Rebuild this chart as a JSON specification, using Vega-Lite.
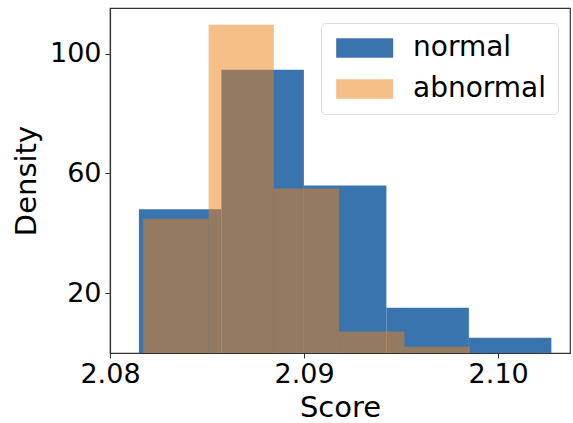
{
  "$schema": "https://vega.github.io/schema/vega-lite/v6.json",
  "width": 460,
  "height": 345,
  "autosize": {"type": "none"},
  "padding": {"left": 110, "top": 8, "right": 3, "bottom": 70},
  "background": "white",
  "config": {
    "font": "DejaVu Sans",
    "view": {"stroke": "#333333", "strokeWidth": 1.2},
    "axis": {
      "labelFont": "DejaVu Sans",
      "titleFont": "DejaVu Sans",
      "labelFontSize": 27,
      "titleFontSize": 29,
      "labelColor": "#000000",
      "titleColor": "#000000",
      "titleFontWeight": "normal",
      "grid": false,
      "domainColor": "#333333",
      "tickColor": "#333333",
      "tickSize": 5,
      "domainWidth": 1.2
    },
    "legend": {
      "orient": "none",
      "legendX": 211,
      "legendY": 15,
      "labelFontSize": 28,
      "labelFont": "DejaVu Sans",
      "labelColor": "#000000",
      "symbolType": "M-1,-1H4.8V1H-1Z",
      "symbolSize": 386,
      "symbolStrokeWidth": 0,
      "labelOffset": 53,
      "rowPadding": 13,
      "padding": 11,
      "strokeColor": "#dddddd",
      "fillColor": "white",
      "cornerRadius": 4
    }
  },
  "data": {
    "values": [
      {"group": "normal", "x0": 2.08149, "x1": 2.08574, "density": 48.0},
      {"group": "normal", "x0": 2.08574, "x1": 2.08999, "density": 94.7},
      {"group": "normal", "x0": 2.08999, "x1": 2.09424, "density": 56.0},
      {"group": "normal", "x0": 2.09424, "x1": 2.09849, "density": 15.1},
      {"group": "normal", "x0": 2.09849, "x1": 2.10274, "density": 5.1},
      {"group": "abnormal", "x0": 2.08171, "x1": 2.08508, "density": 44.9},
      {"group": "abnormal", "x0": 2.08508, "x1": 2.08844, "density": 109.7},
      {"group": "abnormal", "x0": 2.08844, "x1": 2.0918, "density": 55.0},
      {"group": "abnormal", "x0": 2.0918, "x1": 2.09517, "density": 7.2},
      {"group": "abnormal", "x0": 2.09517, "x1": 2.09853, "density": 2.1}
    ]
  },
  "mark": {"type": "rect", "stroke": null},
  "encoding": {
    "x": {
      "field": "x0",
      "type": "quantitative",
      "title": "Score",
      "scale": {"domain": [2.08, 2.1037], "nice": false, "zero": false},
      "axis": {"values": [2.08, 2.09, 2.1], "format": ".2f", "labelPadding": 3, "titlePadding": 6, "labelFlush": false}
    },
    "x2": {"field": "x1"},
    "y": {
      "field": "density",
      "type": "quantitative",
      "title": "Density",
      "scale": {"domain": [0, 115.3], "nice": false},
      "axis": {"values": [20, 60, 100], "labelPadding": 4, "titlePadding": 8, "labelFlush": false}
    },
    "y2": {"datum": 0},
    "color": {
      "field": "group",
      "type": "nominal",
      "scale": {"domain": ["normal", "abnormal"], "range": ["#3a74ae", "#eb7f11"]},
      "legend": {"title": null}
    },
    "opacity": {
      "field": "group",
      "type": "nominal",
      "scale": {"domain": ["normal", "abnormal"], "range": [1, 0.5]},
      "legend": {"title": null}
    }
  }
}
